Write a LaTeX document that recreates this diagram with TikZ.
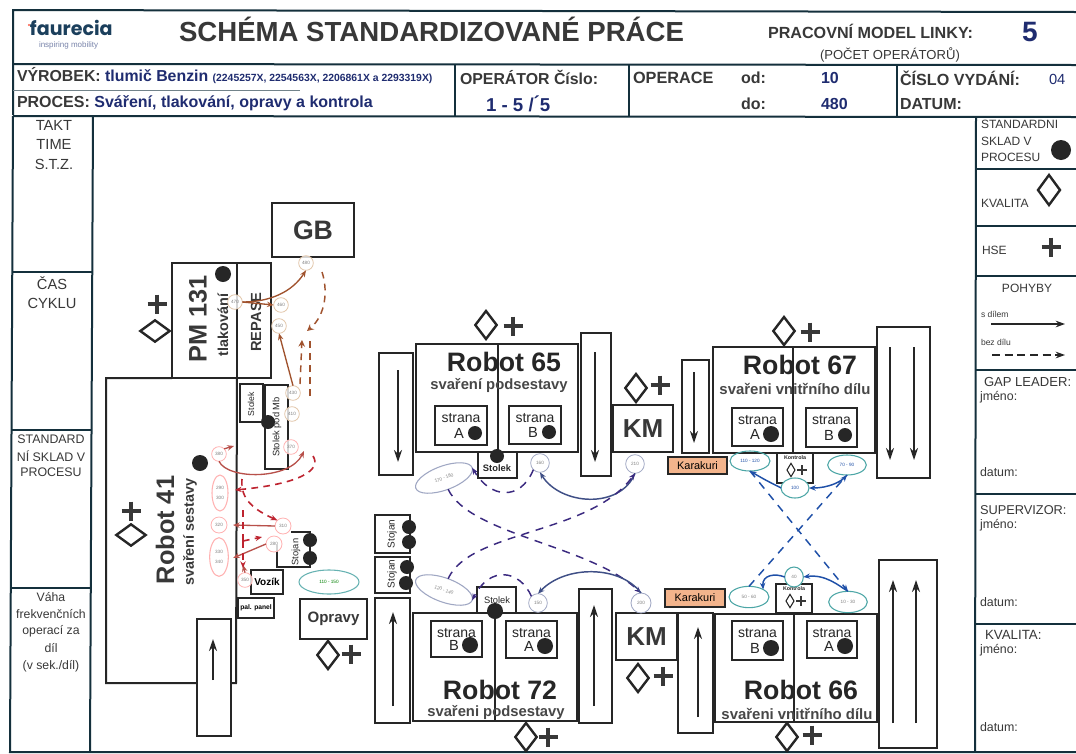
\documentclass[tikz,border=0pt]{standalone}
\usepackage{fontspec}
\setmainfont{Liberation Sans}
\newfontfamily\logofont{Poppins}
\usetikzlibrary{arrows.meta,shapes.geometric}
\definecolor{ink}{HTML}{262626}
\definecolor{frame}{HTML}{14303C}
\definecolor{navy}{HTML}{1F2C70}
\definecolor{logoc}{HTML}{1B3F5C}
\definecolor{headgrey}{HTML}{383838}
\definecolor{orangefill}{HTML}{F3B48C}
\definecolor{redd}{HTML}{BE2430}
\definecolor{reds}{HTML}{B8504A}
\definecolor{brownc}{HTML}{A0522D}
\definecolor{purp}{HTML}{3B2A80}
\definecolor{bluec}{HTML}{1F50A8}
\definecolor{steel}{HTML}{3F4F86}
\tikzset{
  framel/.style={draw=frame,line width=1.5pt},
  thinl/.style={draw=frame,line width=1pt},
  boxn/.style={draw=ink,line width=1.5pt,fill=white,inner sep=0pt,outer sep=0pt,rectangle,align=center},
  txt/.style={inner sep=0pt,outer sep=0pt,align=center,text=ink},
  dotst/.style={circle,fill=ink,draw=none,inner sep=0pt,outer sep=0pt},
  diast/.style={diamond,draw=ink,line width=1.8pt,fill=none,inner sep=0pt,outer sep=0pt},
  plusl/.style={draw=headgrey,line width=2.8pt},
  flowarr/.style={draw=ink,line width=1.2pt,-{Stealth[length=9pt,width=6pt]}},
  opc/.style={circle,draw=#1,line width=.6pt,fill=white,fill opacity=.8,text opacity=1,inner sep=0pt,outer sep=0pt,minimum size=11pt,font=\fontsize{3.5}{4}\selectfont,text=gray},
  ope/.style={ellipse,draw=#1,line width=.8pt,inner sep=0pt,outer sep=0pt,font=\fontsize{3.5}{4}\selectfont,text=gray},
  redsolid/.style={draw=reds,line width=1pt,-{Stealth[length=5pt,width=4pt]}},
  reddash/.style={draw=redd,line width=1.2pt,dash pattern=on 5pt off 4pt,-{Stealth[length=5pt,width=4pt]}},
  brsolid/.style={draw=brownc,line width=1pt,-{Stealth[length=5pt,width=4pt]}},
  brdash/.style={draw=brownc,line width=1.1pt,dash pattern=on 5pt off 4pt,-{Stealth[length=5pt,width=5pt,open]}},
  pdash/.style={draw=purp,line width=1.1pt,dash pattern=on 6pt off 5pt,-{Stealth[length=5pt,width=4pt]}},
  psolid/.style={draw=steel,line width=1.1pt,-{Stealth[length=5pt,width=4pt]}},
  bdash/.style={draw=bluec,line width=1.1pt,dash pattern=on 6pt off 5pt,-{Stealth[length=5pt,width=4pt]}},
  bsolid/.style={draw=bluec,line width=1.1pt,-{Stealth[length=5pt,width=4pt]}},
}
\newcommand\bx[7][]{%
  \pgfmathsetmacro\rcx{(#3+#5)/2}\pgfmathsetmacro\rcy{(#4+#6)/2}%
  \node[boxn,minimum width={(#5-#3)*0.75pt},minimum height={(#6-#4)*0.75pt},#1] (#2) at (\rcx,\rcy) {#7};}
\newcommand\tx[6][]{\node[txt,font=\fontsize{#5}{#5}\selectfont,#1] (#2) at (#3,#4) {#6};}
\newcommand\dotn[4]{\node[dotst,minimum size={2*#4*0.75pt}] (#1) at (#2,#3) {};}
\newcommand\dia[3]{\node[diast,minimum width=16pt,minimum height=21pt] (#1) at (#2,#3) {};}
\newcommand\diaw[3]{\node[diast,minimum width=22pt,minimum height=16pt] (#1) at (#2,#3) {};}
\newcommand\pls[2]{\draw[plusl] (#1,#2) +(-9.5,0) -- +(9.5,0) +(0,-9.5) -- +(0,9.5);}
\newcommand\conv[4]{\coordinate (#1a) at (#2,#3);\coordinate (#1b) at (#2,#4);\draw[flowarr] (#1a) -- (#1b);}
\newcommand\strana[7]{% name x1 y1 x2 y2 letter dotr
  \bx{#1}{#2}{#3}{#4}{#5}{}%
  \pgfmathsetmacro\scx{(#2+#4)/2}\pgfmathsetmacro\sty{#3+12}\pgfmathsetmacro\sly{#5-12}\pgfmathsetmacro\slx{#4-28}\pgfmathsetmacro\sdx{#4-12}%
  \tx{#1t}{\scx}{\sty}{10.5}{strana}\tx{#1l}{\slx}{\sly}{11}{#6}\dotn{#1d}{\sdx}{\sly}{#7}}
\begin{document}
\begin{tikzpicture}[x=0.75pt,y=-0.75pt]
\useasboundingbox (0,0) rectangle (1076,754);
\fill[white] (0,0) rectangle (1076,754);
% ---------- header frame
\draw[framel] (13,115) -- (13,10) -- (1076,12);
\draw[framel] (13,64) -- (1076,65);
\draw[draw=frame!60,line width=.7pt] (13,90) -- (300,90);
\draw[framel] (13,116) -- (1076,117);
\draw[framel] (455,64) -- (455,116);
\draw[framel] (629,65) -- (629,116);
\draw[framel] (897,65) -- (897,116);
% ---------- side columns
\draw[framel] (13,116) -- (10,752) -- (1076,752);
\draw[framel] (93,116) -- (90,752);
\draw[thinl] (13,272) -- (93,272);
\draw[thinl] (11,430) -- (92,430);
\draw[thinl] (11,588) -- (91,588);
\draw[framel] (976,117) -- (975,752);
\foreach \yy in {169,226,276,370,494,624} {\draw[thinl] (976,\yy) -- (1076,\yy);}
% ---------- header text
\fill[orangefill!50!red] (29,25) circle (1.2);
\node[txt,font=\fontsize{14.3}{14}\selectfont,anchor=west,text=logoc,text height=9pt,text depth=0pt] (logo) at (30,29) {\logofont\bfseries faurecia};
\tx[anchor=west,text=steel!70]{logos}{39}{45}{6}{inspiring mobility}
\tx[text=headgrey]{title}{431.5}{29}{20.7}{\bfseries SCHÉMA STANDARDIZOVANÉ PRÁCE}
\tx[anchor=west,text=headgrey]{model}{768}{31}{12.1}{\bfseries PRACOVNÍ MODEL LINKY:}
\tx[text=navy]{five}{1030}{32}{21}{\bfseries 5}
\tx[anchor=west,text=headgrey]{pocet}{820}{55}{9.8}{(POČET OPERÁTORŮ)}
\tx[anchor=west,text=navy]{vyrobek}{17}{76}{11.9}{\textcolor{headgrey}{\bfseries VÝROBEK:} \bfseries tlumič Benzin {\fontsize{7.8}{8}\selectfont(2245257X, 2254563X, 2206861X a 2293319X)}}
\tx[anchor=west,text=navy]{proces}{17}{103}{12}{\textcolor{headgrey}{\bfseries PROCES:} \bfseries Sváření, tlakování, opravy a kontrola}
\tx[anchor=west,text=headgrey]{oper}{460}{77}{11.9}{\bfseries OPERÁTOR Číslo:}
\tx[anchor=west,text=navy]{operv}{486}{104}{14}{\bfseries 1 - 5 /\raisebox{1pt}{´}5}
\tx[anchor=west,text=headgrey]{opc}{633}{78}{12.2}{\bfseries OPERACE}
\tx[anchor=west,text=headgrey]{odl}{741}{78}{12}{\bfseries od:}
\tx[anchor=west,text=headgrey]{dol}{741}{104}{12}{\bfseries do:}
\tx[anchor=west,text=navy]{odv}{821}{78}{12}{\bfseries 10}
\tx[anchor=west,text=navy]{dov}{821}{104}{12}{\bfseries 480}
\tx[anchor=west,text=headgrey]{cislo}{900}{78}{12.1}{\bfseries ČÍSLO VYDÁNÍ:}
\tx[anchor=west,text=navy]{cislov}{1049}{79}{11}{04}
\tx[anchor=west,text=headgrey]{datum}{900}{104}{12}{\bfseries DATUM:}
% ---------- left column text
\tx[text=headgrey]{takt}{54}{125}{11}{TAKT}
\tx[text=headgrey]{time}{54}{144}{11}{TIME}
\tx[text=headgrey]{stz}{54}{164}{11}{S.T.Z.}
\tx[text=headgrey]{cas}{52}{283}{11}{ČAS}
\tx[text=headgrey]{cyklu}{52}{303}{11}{CYKLU}
\tx[text=headgrey]{ss1}{51}{439}{9.3}{STANDARD}
\tx[text=headgrey]{ss2}{51}{456}{9.3}{NÍ SKLAD V}
\tx[text=headgrey]{ss3}{51}{472}{9.3}{PROCESU}
\tx[text=headgrey]{vf1}{51}{597}{9.2}{Váha}
\tx[text=headgrey]{vf2}{51}{614}{9.2}{frekvenčních}
\tx[text=headgrey]{vf3}{51}{631}{9.2}{operací za}
\tx[text=headgrey]{vf4}{51}{648}{9.2}{díl}
\tx[text=headgrey]{vf5}{51}{666}{9.2}{(v sek./díl)}
% ---------- right column
\tx[anchor=west,text=headgrey]{r1}{981}{124}{9}{STANDARDNI}
\tx[anchor=west,text=headgrey]{r2}{981}{141}{9}{SKLAD V}
\tx[anchor=west,text=headgrey]{r3}{981}{157}{9}{PROCESU}
\dotn{rdot}{1061}{150}{10}
\tx[anchor=west,text=headgrey]{r4}{981}{203}{9}{KVALITA}
\node[diast,minimum width=16.5pt,minimum height=22.5pt] (rdia) at (1049,190) {};
\tx[anchor=west,text=headgrey]{r5}{982}{250}{9}{HSE}
\pls{1051}{247}
\tx[text=headgrey]{r6}{1027}{288}{9}{POHYBY}
\tx[anchor=west,text=headgrey]{r7}{981}{314}{6.4}{s dílem}
\coordinate (leg1a) at (991,324);\coordinate (leg1b) at (1065,324);
\draw[draw=ink,line width=.9pt,-{Stealth[length=7pt,width=5pt]}] (leg1a) -- (leg1b);
\tx[anchor=west,text=headgrey]{r8}{981}{342}{6.4}{bez dílu}
\coordinate (leg2a) at (992,355);\coordinate (leg2b) at (1065,355);
\draw[draw=ink,line width=.9pt,dash pattern=on 6pt off 3.5pt,-{Stealth[length=7pt,width=5pt]}] (leg2a) -- (leg2b);
\tx[anchor=west,text=headgrey]{r9}{984}{382}{9.8}{GAP LEADER:}
\tx[anchor=west,text=headgrey]{r10}{980}{397}{9.3}{jméno:}
\tx[anchor=west,text=headgrey]{r11}{980}{472}{9.3}{datum:}
\tx[anchor=west,text=headgrey]{r12}{980}{510}{9.6}{SUPERVIZOR:}
\tx[anchor=west,text=headgrey]{r13}{980}{525}{9.3}{jméno:}
\tx[anchor=west,text=headgrey]{r14}{980}{602}{9.3}{datum:}
\tx[anchor=west,text=headgrey]{r15}{985}{635}{10}{KVALITA:}
\tx[anchor=west,text=headgrey]{r16}{980}{650}{9.3}{jméno:}
\tx[anchor=west,text=headgrey]{r17}{980}{727}{9.3}{datum:}
% ---------- GB, PM 131, Robot 41
\bx{gb}{272}{203}{354}{257}{\fontsize{20}{20}\selectfont\bfseries\textcolor{headgrey}{GB}}
\bx{pm}{172}{263}{237}{378}{}
\bx{repase}{237}{263}{271}{378}{}
\draw[draw=ink,line width=1.5pt] (pm.south west) -- (106,378) -- (106,683) -- (236,683) -- (pm.south east);
\tx[rotate=90,text=headgrey]{pmt}{198}{319}{19}{\bfseries PM 131}
\tx[rotate=90,text=headgrey]{tlak}{223}{325}{10.8}{\bfseries tlakování}
\tx[rotate=90,text=headgrey]{rep}{256}{322}{11}{\bfseries REPASE}
\dotn{pmdot}{223}{274}{8}
\diaw{pmdia}{155}{331}\pls{157}{304}
\tx[rotate=90,text=headgrey]{r41}{165}{530}{19}{\bfseries Robot 41}
\tx[rotate=90,text=headgrey]{r41s}{190}{532}{10.8}{\bfseries svaření sestavy}
\dotn{r41dot}{200}{463}{8}
\diaw{r41dia}{131}{535}\pls{131}{511}
\bx{stol1}{240}{384}{263}{422}{}
\tx[rotate=90]{stol1t}{251}{404}{6.5}{Stolek}
\bx{stol2}{265}{385}{288}{469}{}
\tx[rotate=90]{stol2t}{277}{427}{7}{Stolek pod Mb}
\dotn{stol1d}{268}{422}{7}
\bx{vozik}{251}{570}{283}{594}{\fontsize{7.5}{8}\selectfont\bfseries Vozík}
\bx{pal}{238}{598}{274}{618}{\fontsize{5}{6}\selectfont\bfseries pal. panel}
\draw[draw=ink,line width=1.5pt] (291,532) -- (310,532) -- (310,567) -- (277,567) -- (277,545);
\tx[rotate=90]{stojt}{296}{552}{7}{Stojan}
\dotn{stj1}{310}{540}{7}\dotn{stj2}{310}{558}{7}
\node[ope=teal!60,minimum width=45pt,minimum height=18pt,text=green!50!black] (e110) at (329,582) {110 - 150};
\bx{opravy}{300}{599}{367}{639}{\fontsize{11.3}{12}\selectfont\bfseries\textcolor{headgrey}{Opravy}}
\dia{opdia}{328}{655}\pls{351}{654}
\bx{c41}{197}{619}{231}{736}{}
\conv{a41}{213}{680}{639}
% ---------- top row
\bx{cv65l}{379}{353}{413}{475}{}\conv{a65l}{398}{370}{462}
\bx{r65}{416}{344}{578}{452}{}
\draw[draw=ink,line width=1.5pt] (498,344) -- (498,452);
\tx[text=ink]{r65t}{504}{362}{20}{\bfseries Robot 65}
\tx[text=ink!85]{r65s}{499}{386}{11.1}{\bfseries svaření podsestavy}
\strana{s65a}{435}{406}{487}{445}{A}{7}
\strana{s65b}{509}{406}{561}{444}{B}{7}
\bx{stol65}{478}{452}{517}{478}{}
\tx{stol65t}{497}{468}{7}{\bfseries Stolek}
\dotn{stol65d}{497}{456}{7}
\bx{cv65r}{581}{333}{611}{476}{}\conv{a65r}{595}{352}{462}
\dia{d65}{486}{325}\pls{513}{326}
\bx{kmt}{613}{405}{673}{452}{\fontsize{19.5}{20}\selectfont\bfseries\textcolor{headgrey}{KM}}
\dia{dkmt}{636}{388}\pls{660}{385}
\bx{cv67l}{682}{360}{709}{453}{}\conv{a67l}{694}{372}{443}
\bx[fill=orangefill]{kart}{668}{457}{727}{474}{\fontsize{8.2}{9}\selectfont Karakuri}
\bx{r67}{713}{347}{875}{453}{}
\draw[draw=ink,line width=1.5pt] (793,347) -- (793,453);
\tx[text=ink]{r67t}{800}{365}{20}{\bfseries Robot 67}
\tx[text=ink!85]{r67s}{795}{389}{11.2}{\bfseries svařeni vnitřního dílu}
\strana{s67a}{732}{408}{783}{446}{A}{8}
\strana{s67b}{806}{408}{857}{447}{B}{7}
\bx{cv67r}{877}{327}{930}{478}{}\conv{a67r1}{890}{347}{460}\conv{a67r2}{914}{347}{460}
\dia{d67}{784}{331}\pls{810}{332}
\bx{kont}{777}{453}{813}{483}{}
\tx{kontt}{795}{458}{4}{\bfseries Kontrola}
\node[diast,line width=.8pt,minimum width=6pt,minimum height=10pt] (kontd) at (791,470) {};
\draw[draw=headgrey,line width=1.5pt] (802,470) +(-5,0) -- +(5,0) +(0,-5) -- +(0,5);
% ---------- bottom row
\bx{st1}{375}{515}{410}{553}{}\tx[rotate=90]{st1t}{392}{534}{7.5}{Stojan}
\dotn{st1a}{409}{527}{7}\dotn{st1b}{409}{542}{7}
\bx{st2}{375}{557}{410}{593}{}\tx[rotate=90]{st2t}{392}{574}{7.5}{Stojan}
\dotn{st2a}{407}{567}{7}\dotn{st2b}{406}{583}{7}
\bx{cv72l}{375}{598}{410}{723}{}\conv{a72l}{393}{706}{612}
\bx{r72}{413}{613}{577}{721}{}
\draw[draw=ink,line width=1.5pt] (495,613) -- (495,721);
\tx[text=ink]{r72t}{500}{690}{20}{\bfseries Robot 72}
\tx[text=ink!85]{r72s}{496}{713}{11.1}{\bfseries svařeni podsestavy}
\strana{s72b}{431}{621}{482}{657}{B}{8}
\strana{s72a}{506}{621}{557}{658}{A}{8}
\bx{stol72}{477}{587}{516}{613}{}
\tx{stol72t}{497}{600}{7}{Stolek}
\dotn{stol72d}{495}{611}{8}
\bx{cv72r}{579}{589}{612}{723}{}\conv{a72r}{594}{706}{605}
\dia{d72}{526}{737}\pls{548}{737}
\bx{kmb}{616}{613}{677}{660}{\fontsize{19.5}{20}\selectfont\bfseries\textcolor{headgrey}{KM}}
\dia{dkmb}{638}{678}\pls{663}{676}
\bx{cv66l}{678}{613}{713}{733}{}\conv{a66l}{698}{717}{627}
\bx[fill=orangefill]{karb}{665}{589}{725}{607}{\fontsize{8.2}{9}\selectfont Karakuri}
\bx{r66}{715}{614}{877}{722}{}
\draw[draw=ink,line width=1.5pt] (794,614) -- (794,722);
\tx[text=ink]{r66t}{801}{690}{20}{\bfseries Robot 66}
\tx[text=ink!85]{r66s}{797}{714}{11.2}{\bfseries svařeni vnitřního dílu}
\strana{s66b}{732}{621}{783}{660}{B}{8}
\strana{s66a}{807}{621}{857}{658}{A}{8}
\bx{cv66r}{879}{560}{937}{748}{}\conv{a66r1}{893}{723}{580}\conv{a66r2}{916}{723}{580}
\dia{d66}{787}{737}\pls{812}{735}
\bx{konb}{776}{584}{812}{613}{}
\tx{konbt}{794}{589}{4}{\bfseries Kontrola}
\node[diast,line width=.8pt,minimum width=6pt,minimum height=10pt] (konbd) at (790,601) {};
\draw[draw=headgrey,line width=1.5pt] (801,601) +(-5,0) -- +(5,0) +(0,-5) -- +(0,5);
% ---------- operation marks: robots
\node[ope=steel!50,minimum width=45pt,minimum height=18pt,rotate=20] (e170) at (444,478) {170 - 180};
\node[opc=steel!50,minimum size=14pt] (c160) at (540,463) {160};
\node[opc=steel!50,minimum size=14pt] (c210) at (635,464) {210};
\node[ope=steel!50,minimum width=45pt,minimum height=18pt,rotate=-20] (e120) at (444,590) {120 - 140};
\node[opc=steel!50,minimum size=14pt] (c150) at (538,603) {150};
\node[opc=steel!50,minimum size=15pt] (c200) at (641,603) {200};
\node[ope=teal!70,minimum width=30pt,minimum height=15pt,text=bluec] (e110b) at (750,461) {110 - 120};
\node[ope=teal!70,minimum width=29pt,minimum height=15pt,text=bluec] (e70) at (847,465) {70 - 90};
\node[ope=teal!70,minimum width=21pt,minimum height=15pt,fill=white,text=bluec] (e100) at (795,488) {100};
\node[ope=teal!70,minimum width=30pt,minimum height=16pt] (e50) at (749,597) {50 - 60};
\node[ope=teal!70,minimum width=29pt,minimum height=16pt] (e10) at (848,602) {10 - 30};
\node[ope=teal!70,minimum width=14pt,minimum height=15pt,fill=white] (e40) at (794,577) {40};
% ---------- operation marks: left column
\node[opc=brown!45] (m480) at (306,263) {480};
\node[opc=brown!45] (m470) at (235,302) {470};
\node[opc=brown!45] (m460) at (281,305) {460};
\node[opc=brown!45] (m450) at (279,326) {450};
\node[opc=brown!45] (m430) at (293,393) {430};
\node[opc=brown!45] (m410) at (292,414) {410};
\node[opc=red!30] (m370) at (291,447) {370};
\node[opc=red!30] (m380) at (219,454) {380};
\node[ope=red!30,minimum width=12pt,minimum height=27pt,align=center] (m390) at (220,493) {290\\[3pt]300};
\node[opc=red!30,minimum size=12pt] (m320) at (219,525) {320};
\node[ope=red!30,minimum width=14pt,minimum height=29pt,align=center] (m330) at (219,557) {330\\[3pt]340};
\node[opc=red!30] (m350) at (245,580) {350};
\node[opc=red!30,minimum size=12pt] (m310) at (283,526) {310};
\node[opc=red!30,minimum size=12pt] (m280) at (274,544) {280};
% ---------- connectors: brown
\draw[brsolid] (m470.east) .. controls (270,302) and (292,292) .. (m480.south);
\draw[brsolid] (m430.north) -- (m450.south);
\draw[brsolid] (m470.east) -- (m460.west);
\coordinate (bd1) at (322,272);
\draw[brdash] (bd1) .. controls (328,290) and (326,315) .. (307,331);
\coordinate (bd2a) at (300,384);\coordinate (bd2b) at (302,340);
\draw[brdash] (bd2a) -- (bd2b);
\coordinate (bd3a) at (310,396);\coordinate (bd3b) at (310,338);
\draw[draw=brownc,line width=1.1pt,dash pattern=on 5pt off 4pt] (bd3a) -- (bd3b);
% ---------- connectors: red
\draw[redsolid] (m380.south) .. controls (228,480) and (290,480) .. (304,451);
\draw[redsolid] (m380.north east) -- (234,446);
\draw[redsolid] (m310.west) -- (233,525);
\draw[redsolid] (m280.west) -- (233,558);
\draw[redsolid] (m350.north) -- (243,565);
\coordinate (rd1) at (313,456);\coordinate (rd2) at (235,490);
\draw[reddash] (rd1) .. controls (322,470) and (300,484) .. (rd2);
\coordinate (rd3) at (242,479);
\draw[reddash] (rd3) .. controls (240,500) and (255,510) .. (m310.north west);
\coordinate (rd4) at (243,510);\coordinate (rd5) at (243,541);
\draw[draw=redd,line width=1.1pt,dash pattern=on 5pt off 4pt] (rd4) -- (rd5);
\draw[reddash] (rd5) -- (262,537);
\draw[reddash] (rd5) -- (243,568);
% ---------- connectors: purple
\draw[psolid] (c210.south) .. controls (620,510) and (560,505) .. (c160.south);
\draw[pdash] (c160.south west) .. controls (520,502) and (490,498) .. (e170.east);
\draw[pdash] (e170.south) .. controls (470,535) and (590,545) .. (c200.north);
\draw[pdash] (e120.north) .. controls (470,530) and (590,535) .. (c210.south);
\draw[psolid] (c200.north) .. controls (620,565) and (565,565) .. (c150.north);
\draw[pdash] (c150.north west) .. controls (520,570) and (490,565) .. (e120.east);
% ---------- connectors: blue
\draw[bsolid] (e100.west) .. controls (780,487) and (770,483) .. (e110b.south);
\draw[bsolid] (e70.south) .. controls (842,482) and (828,488) .. (e100.east);
\draw[bdash] (e110b.south) -- (e10.north);
\draw[bdash] (e50.north) -- (e70.south);
\draw[bsolid] (e40.west) .. controls (775,573) and (762,575) .. (e50.north east);
\draw[bsolid] (e10.north) .. controls (838,585) and (825,574) .. (e40.east);
\end{tikzpicture}
\end{document}
